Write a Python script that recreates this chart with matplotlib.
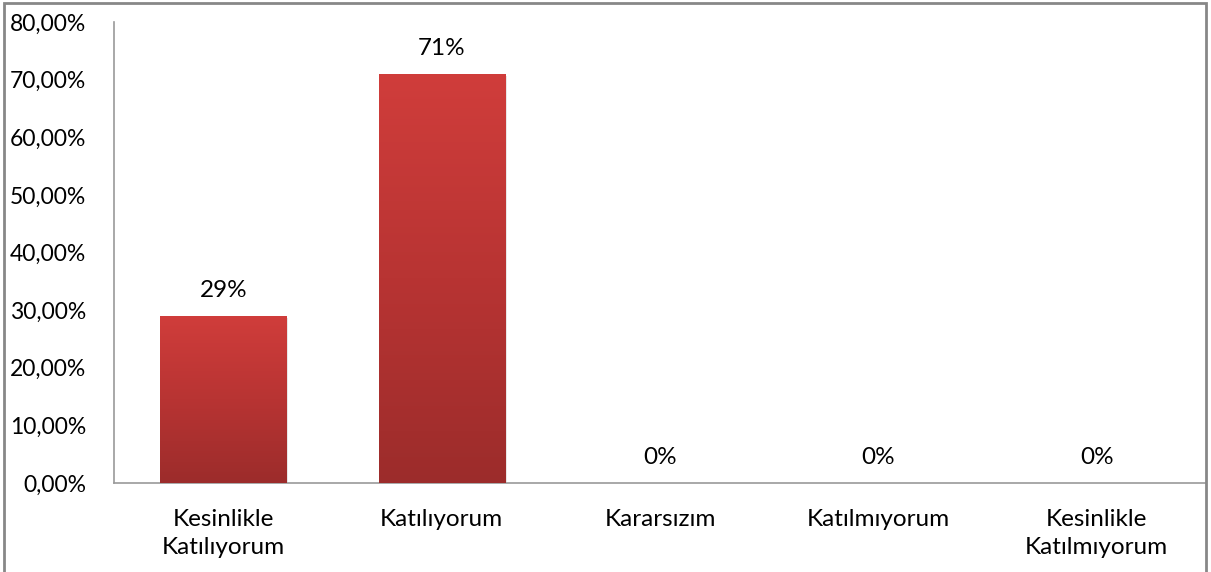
import matplotlib
matplotlib.use("Agg")
import matplotlib.pyplot as plt
import numpy as np
from matplotlib.colors import LinearSegmentedColormap
from matplotlib.patches import Rectangle

categories = ["Kesinlikle\nKatılıyorum", "Katılıyorum", "Kararsızım", "Katılmıyorum", "Kesinlikle\nKatılmıyorum"]
values = [29, 71, 0, 0, 0]
value_labels = ["29%", "71%", "0%", "0%", "0%"]
yticks = [0, 10, 20, 30, 40, 50, 60, 70, 80]
ytick_labels = ["0,00%", "10,00%", "20,00%", "30,00%", "40,00%", "50,00%", "60,00%", "70,00%", "80,00%"]

plt.rcParams['font.family'] = ['Lato', 'DejaVu Sans']
FS = 17.5
W, H = 1211, 572
fig = plt.figure(figsize=(W / 100, H / 100), dpi=100)
fig.patch.set_facecolor("white")

# outer chart border
fig.add_artist(Rectangle((4 / W, -0.05), (1206 - 4) / W, 1.05 - 3 / H, transform=fig.transFigure,
                         fill=False, edgecolor="#878787", linewidth=2))

ax = fig.add_axes([114 / W, 1 - 483 / H, (1206 - 114) / W, (483 - 22) / H])
x = np.arange(len(categories))
bw = 0.577
bars = ax.bar(x, values, width=bw, color="none", edgecolor="none", zorder=3)

cmap = LinearSegmentedColormap.from_list("grad", ["#9C2C2B", "#B83433", "#D03D3B"])
grad = np.linspace(0, 1, 256).reshape(-1, 1)
for b, v in zip(bars, values):
    if v <= 0:
        continue
    x0 = b.get_x()
    ax.add_patch(Rectangle((x0 + 0.01, 0), bw, v - 0.3, facecolor="#d8d8d8", alpha=0.6,
                           edgecolor="none", zorder=2))
    im = ax.imshow(grad, cmap=cmap, aspect="auto", origin="lower",
                   extent=(x0, x0 + bw, 0, v), zorder=3)
    im.set_clip_path(b)

for xi, v, lab in zip(x, values, value_labels):
    ax.annotate(lab, (xi, v), xytext=(0, 18), textcoords="offset points",
                ha="center", va="center", fontsize=FS, color="black")

ax.set_xlim(-0.5, len(categories) - 0.5)
ax.set_ylim(0, 80)
ax.set_yticks(yticks)
ax.set_yticklabels(ytick_labels, fontsize=16.5)
ax.set_xticks(x)
ax.set_xticklabels(categories, fontsize=FS, linespacing=1.4)
ax.tick_params(axis="y", length=0, pad=20)
ax.tick_params(axis="x", length=0, pad=19)
for s in ["top", "right"]:
    ax.spines[s].set_visible(False)
for s in ["left", "bottom"]:
    ax.spines[s].set_color("#9a9a9a")
    ax.spines[s].set_linewidth(1.2)

fig.savefig("out.png", dpi=100, facecolor="white")
